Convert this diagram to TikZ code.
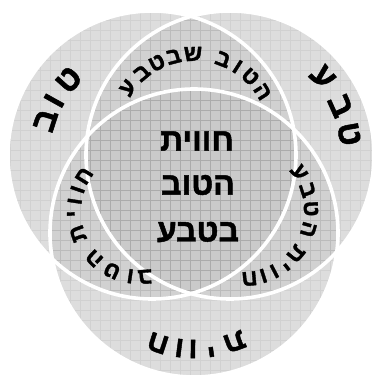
\documentclass[tikz,border=0pt]{standalone}
\usepackage{fontspec}
\newfontfamily\heb[Script=Hebrew, BoldFeatures={FakeBold=1.5}]{Liberation Sans}
\TeXXeTstate=1
\usetikzlibrary{calc}
\definecolor{one}{HTML}{DDDDDD}
\definecolor{two}{HTML}{D1D1D1}
\definecolor{three}{HTML}{CACACA}
\newcommand\arcletters[5]{%
  \foreach \a/\l [count=\i] in {#5}{%
    \node[hl=#3, rotate=\a-90] (#4\i) at ($(#1)+(\a:#2)$) {\l};}}
\begin{document}
\begin{tikzpicture}[x=1pt,y=1pt,
  hl/.style={font=\heb\bfseries\fontsize{#1}{#1}\selectfont, inner sep=0pt},
  gridline/.style={black, opacity=0.05, line width=1pt},
  ring/.style={white, line width=3.6pt}]
\useasboundingbox (0,0) rectangle (374,-376);
\coordinate (A) at (152,-155);
\coordinate (B) at (230,-155);
\coordinate (C) at (194,-233);
\def\R{144}
% single regions
\fill[one] (A) circle (\R);
\fill[one] (B) circle (\R);
\fill[one] (C) circle (\R);
% pairwise
\begin{scope}\clip (A) circle (\R); \fill[two] (B) circle (\R); \fill[two] (C) circle (\R);\end{scope}
\begin{scope}\clip (B) circle (\R); \fill[two] (C) circle (\R);\end{scope}
% triple
\begin{scope}\clip (A) circle (\R); \clip (B) circle (\R); \fill[three] (C) circle (\R);\end{scope}
% grid texture
\foreach \c in {A,B,C}{
  \begin{scope}\clip (\c) circle (\R);
    \draw[gridline] (0,0) grid[step=10] (374,-376);
  \end{scope}}
% white outlines
\draw[ring] (A) circle (\R);
\draw[ring] (B) circle (\R);
\draw[ring] (C) circle (\R);
% outer labels
\arcletters{A}{112}{34}{tov}{162/{\beginR ב\endR}, 151/{\beginR ו\endR}, 138/{\beginR ט\endR}}
\arcletters{B}{121}{34}{teva}{40/{\beginR ע\endR}, 24/{\beginR ב\endR}, 10/{\beginR ט\endR}}
\arcletters{C}{116}{30}{chav}{-69.6/{\beginR ת\endR}, -81.7/{\beginR י\endR}, -90.5/{\beginR ו\endR}, -97.3/{\beginR ו\endR}, -108.1/{\beginR ח\endR}}
% pairwise labels
\coordinate (T) at (194,-135);
\arcletters{T}{81}{23}{top}{144.4/{\beginR ע\endR}, 130/{\beginR ב\endR}, 117.2/{\beginR ט\endR}, 104.5/{\beginR ב\endR}, 90.7/{\beginR ש\endR}, 69/{\beginR ב\endR}, 57.5/{\beginR ו\endR}, 46/{\beginR ט\endR}, 32.3/{\beginR ה\endR}}
\coordinate (RR) at (243,-211);
\arcletters{RR}{68}{23}{rt}{34.4/{\beginR ע\endR}, 18/{\beginR ב\endR}, 2/{\beginR ט\endR}, -15.8/{\beginR ה\endR}, -39/{\beginR ת\endR}, -52/{\beginR י\endR}, -62.5/{\beginR ו\endR}, -72.5/{\beginR ו\endR}, -84.5/{\beginR ח\endR}}
\coordinate (LL) at (140,-211);
\arcletters{LL}{66}{23}{lt}{274.3/{\beginR ב\endR}, 261.5/{\beginR ו\endR}, 245/{\beginR ט\endR}, 226/{\beginR ה\endR}, 200/{\beginR ת\endR}, 182.5/{\beginR י\endR}, 171.5/{\beginR ו\endR}, 161/{\beginR ו\endR}, 148/{\beginR ח\endR}}
% center
\node[hl=32] (c1) at (197,-141) {\beginR חווית\endR};
\node[hl=32] (c2) at (198,-185) {\beginR הטוב\endR};
\node[hl=32] (c3) at (198,-232) {\beginR בטבע\endR};
\end{tikzpicture}
\end{document}
